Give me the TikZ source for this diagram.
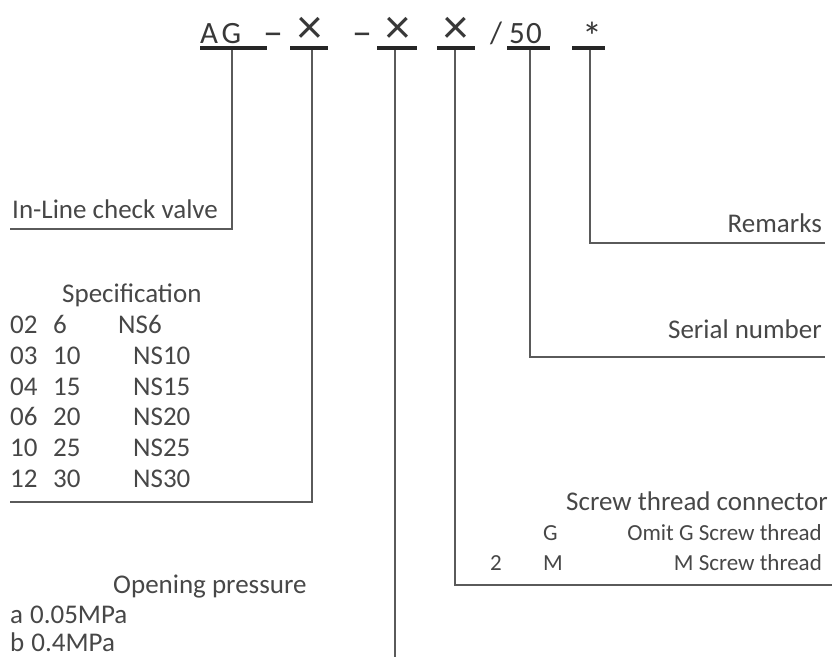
\documentclass[tikz,border=0pt]{standalone}
\usepackage{fontspec}
\setmainfont{Carlito}
\definecolor{txt}{HTML}{474747}
\definecolor{ln}{HTML}{5A5A5A}
\begin{document}
\begin{tikzpicture}[x=1pt,y=-1pt,
  lbl/.style={inner sep=0pt,text=txt,font=\fontsize{27}{27}\selectfont},
  sml/.style={inner sep=0pt,text=txt,font=\fontsize{23}{23}\selectfont},
  ttl/.style={inner sep=0pt,text=black!78,font=\fontsize{31}{31}\selectfont},
  tdash/.style={inner sep=0pt,text=black!78,font=\fontsize{40}{40}\selectfont},
  tx/.style={inner sep=0pt,text=black!78,font=\fontsize{50}{50}\selectfont},
  bar/.style={fill=black!85,inner sep=0pt,minimum height=4pt},
  conn/.style={draw=ln,line width=1.5pt}]
\useasboundingbox (0,0) rectangle (832,657);
% title
\node[ttl,anchor=base west] (tAG) at (200,43) {\addfontfeature{LetterSpace=12}AG};
\node[tdash,anchor=base] (td1) at (273,45) {–};
\node[tx,anchor=base] (tx1) at (310,43) {×};
\node[tdash,anchor=base] (td2) at (362,45) {–};
\node[tx,anchor=base] (tx2) at (398,43) {×};
\node[tx,anchor=base] (tx3) at (456,43) {×};
\node[ttl,anchor=base] (tsl) at (496,43) {/};
\node[ttl,anchor=base west] (t50) at (509,43) {\addfontfeature{LetterSpace=4}50};
\node[tdash,anchor=base] (tst) at (592,50) {*};
% bars
\node[bar,minimum width=67pt] (bAG) at (233.5,48) {};
\node[bar,minimum width=38pt] (bx1) at (309,48) {};
\node[bar,minimum width=40pt] (bx2) at (397,48) {};
\node[bar,minimum width=38pt] (bx3) at (456,48) {};
\node[bar,minimum width=43pt] (b50) at (528.5,48) {};
\node[bar,minimum width=33pt] (bst) at (588.5,48) {};
% connector end points
\coordinate (eAG) at (10,229);
\coordinate (ex1) at (10,502);
\coordinate (ex2) at (395,657);
\coordinate (ex3) at (832,585);
\coordinate (e50) at (825,357);
\coordinate (est) at (825,243);
\draw[conn] (bAG.south-|232,0) |- (eAG);
\draw[conn] (bx1.south-|312,0) |- (ex1);
\draw[conn] (bx2.south-|395,0) -- (ex2);
\draw[conn] (bx3.south-|455,0) |- (ex3);
\draw[conn] (b50.south-|530,0) |- (e50);
\draw[conn] (bst.south-|590,0) |- (est);
% labels left
\node[lbl,anchor=base west] (inl) at (12,218) {In-Line check valve};
\node[lbl,anchor=base west] (spec) at (62,302) {Specification};
\node[lbl,anchor=base west] (r1a) at (10,333) {02};
\node[lbl,anchor=base west] (r1b) at (53,333) {6};
\node[lbl,anchor=base west] (r1c) at (118,333) {NS6};
\node[lbl,anchor=base west] (r2a) at (10,364) {03};
\node[lbl,anchor=base west] (r2b) at (53,364) {10};
\node[lbl,anchor=base west] (r2c) at (133,364) {NS10};
\node[lbl,anchor=base west] (r3a) at (10,395) {04};
\node[lbl,anchor=base west] (r3b) at (53,395) {15};
\node[lbl,anchor=base west] (r3c) at (133,395) {NS15};
\node[lbl,anchor=base west] (r4a) at (10,425) {06};
\node[lbl,anchor=base west] (r4b) at (53,425) {20};
\node[lbl,anchor=base west] (r4c) at (133,425) {NS20};
\node[lbl,anchor=base west] (r5a) at (10,456) {10};
\node[lbl,anchor=base west] (r5b) at (53,456) {25};
\node[lbl,anchor=base west] (r5c) at (133,456) {NS25};
\node[lbl,anchor=base west] (r6a) at (10,487) {12};
\node[lbl,anchor=base west] (r6b) at (53,487) {30};
\node[lbl,anchor=base west] (r6c) at (133,487) {NS30};
\node[lbl,anchor=base west] (op) at (113,593) {Opening pressure};
\node[lbl,anchor=base west] (opa) at (10,623) {a\hspace{7pt}0.05MPa};
\node[lbl,anchor=base west] (opb) at (10,651) {b\hspace{7pt}0.4MPa};
% labels right
\node[lbl,anchor=base east] (rem) at (822,232) {Remarks};
\node[lbl,anchor=base east] (ser) at (822,338) {Serial number};
\node[lbl,anchor=base east] (scr) at (828,510) {Screw thread connector};
\node[sml,anchor=base west] (g1) at (543,540) {G};
\node[sml,anchor=base east] (g2) at (822,540) {Omit G Screw thread};
\node[sml,anchor=base west] (m0) at (490,570) {2};
\node[sml,anchor=base west] (m1) at (543,570) {M};
\node[sml,anchor=base east] (m2) at (822,570) {M Screw thread};
\end{tikzpicture}
\end{document}
